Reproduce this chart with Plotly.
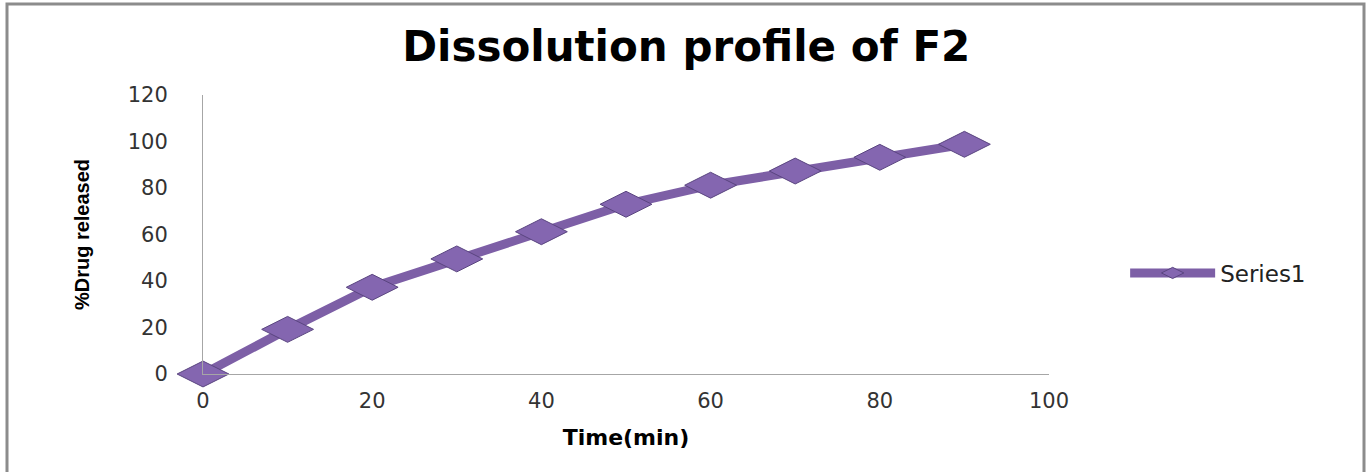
import plotly.graph_objects as go

# Dissolution data for formulation F2
time_min = [0, 10, 20, 30, 40, 50, 60, 70, 80, 90]
drug_released = [0, 19.2, 37.3, 49.5, 61.2, 73.0, 81.2, 87.3, 93.2, 98.8]
series_name = "Series1"

x_ticks = [0, 20, 40, 60, 80, 100]
y_ticks = [0, 20, 40, 60, 80, 100, 120]

W, H = 1367, 472
L, R, T, B = 203, 318, 95, 98
pw = W - L - R
ph = H - T - B

line_color = "#7D5FA6"
marker_fill = "#8466B0"
marker_edge = "#5A4580"

fig = go.Figure()
fig.add_trace(go.Scatter(
    x=time_min, y=drug_released, name=series_name,
    mode="lines+markers",
    line=dict(color=line_color, width=9),
    marker=dict(symbol="diamond-wide", size=37, color=marker_fill,
                line=dict(color=marker_edge, width=1)),
    cliponaxis=False,
))

tick_font = dict(family="DejaVu Sans", size=21, color="#333333")

fig.update_layout(
    width=W, height=H,
    margin=dict(l=L, r=R, t=T, b=B, autoexpand=False),
    paper_bgcolor="white", plot_bgcolor="white",
    title=dict(text="<b>Dissolution profile of F2</b>",
               font=dict(family="DejaVu Sans", size=42, color="#000000"),
               xref="container", yref="container",
               x=0.502, xanchor="center", y=1 - 46 / H, yanchor="middle"),
    xaxis=dict(range=[0, 100], tickvals=x_ticks, ticks="", showgrid=False,
               zeroline=False, showline=True, linecolor="#A6A6A6", linewidth=1,
               tickfont=tick_font, ticklabelstandoff=8,
               title=dict(text="<b>Time(min)</b>", standoff=17,
                          font=dict(family="DejaVu Sans", size=22, color="#000000"))),
    yaxis=dict(range=[0, 120], tickvals=y_ticks, ticks="", showgrid=False,
               zeroline=False, showline=True, linecolor="#A6A6A6", linewidth=1,
               tickfont=tick_font, ticklabelstandoff=30,
               title=dict(text="<b>%Drug released</b>", standoff=32,
                          font=dict(family="Liberation Sans", size=20, color="#000000"))),
    showlegend=True,
    legend=dict(x=1.09, y=101 / ph, xanchor="left", yanchor="middle",
                font=dict(family="DejaVu Sans", size=23, color="#222222"),
                bgcolor="rgba(0,0,0,0)", itemwidth=85),
    shapes=[dict(type="rect", xref="paper", yref="paper",
                 x0=(7 - L) / pw, x1=(1364 - L) / pw,
                 y0=(H - B - 490) / ph, y1=(H - B - 4) / ph,
                 line=dict(color="#8C8C8C", width=3), fillcolor="rgba(0,0,0,0)",
                 layer="below")],
)

fig.write_html("out.html")
